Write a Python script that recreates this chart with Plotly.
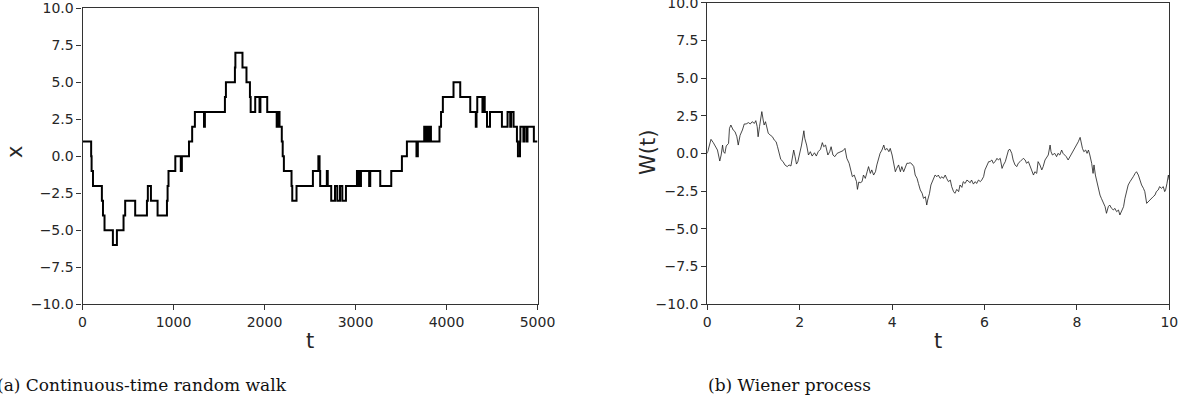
import plotly.graph_objects as go

# (a) continuous-time random walk: jump times and the level held after each jump
rw_t = [0, 95, 100, 115, 213, 225, 242, 334, 378, 451, 469, 579, 708, 718, 752, 825,
        928, 935, 945, 1020, 1080, 1092, 1170, 1205, 1235, 1335, 1345, 1565, 1576, 1675,
        1680, 1758, 1802, 1840, 1848, 1898, 1945, 1955, 2030, 2134, 2140, 2148, 2155,
        2165, 2190, 2200, 2213, 2297, 2305, 2352, 2532, 2592, 2605, 2612, 2685, 2695,
        2733, 2775, 2800, 2830, 2855, 2895, 3016, 3030, 3040, 3050, 3060, 3150, 3162,
        3272, 3393, 3510, 3565, 3670, 3685, 3755, 3770, 3785, 3800, 3810, 3829, 3923,
        3940, 3960, 4077, 4151, 4261, 4322, 4330, 4338, 4395, 4405, 4420, 4445, 4478,
        4609, 4671, 4700, 4710, 4737, 4774, 4785, 4808, 4812, 4845, 4855, 4880, 4890,
        4960, 5000]
rw_x = [1, 0, -1, -2, -3, -4, -5, -6, -5, -4, -3, -4, -3, -2, -3, -4,
        -3, -2, -1, 0, -1, 0, 1, 2, 3, 2, 3, 4, 5, 6,
        7, 6, 5, 4, 3, 4, 3, 4, 3, 2, 3, 2, 3,
        2, 1, 0, -1, -2, -3, -2, -1, 0, -1, -2, -1, -2,
        -3, -2, -3, -2, -3, -2, -1, -2, -1, -2, -1, -2, -1,
        -2, -1, 0, 1, 0, 1, 2, 1, 2, 1, 2, 1, 2,
        3, 4, 5, 4, 3, 2, 3, 4, 3, 4, 3, 2, 3,
        2, 3, 2, 3, 2, 1, 0, 1, 2, 1, 2, 1, 2,
        1, 1]

# (b) Wiener process sample path
w_t = [0.00, 0.04, 0.08, 0.13, 0.18, 0.22, 0.27, 0.30, 0.33, 0.35, 0.38, 0.41, 0.46, 0.48,
       0.51, 0.56, 0.60, 0.64, 0.67, 0.71, 0.76, 0.80, 0.84, 0.89, 0.93, 0.97, 1.02, 1.05,
       1.08, 1.10, 1.13, 1.18, 1.21, 1.23, 1.26, 1.29, 1.32, 1.36, 1.41, 1.45, 1.49, 1.52,
       1.55, 1.59, 1.64, 1.68, 1.73, 1.77, 1.81, 1.84, 1.87, 1.90, 1.93, 1.96, 2.00, 2.04,
       2.09, 2.11, 2.15, 2.19, 2.23, 2.27, 2.32, 2.36, 2.40, 2.45, 2.49, 2.52, 2.56, 2.61,
       2.65, 2.68, 2.72, 2.76, 2.81, 2.85, 2.89, 2.94, 2.98, 3.02, 3.07, 3.11, 3.14, 3.18,
       3.23, 3.25, 3.28, 3.31, 3.35, 3.38, 3.42, 3.46, 3.49, 3.53, 3.56, 3.60, 3.64, 3.67,
       3.71, 3.74, 3.78, 3.82, 3.85, 3.89, 3.93, 3.96, 4.00, 4.03, 4.07, 4.10, 4.14, 4.18,
       4.21, 4.25, 4.29, 4.32, 4.36, 4.39, 4.43, 4.47, 4.50, 4.54, 4.57, 4.61, 4.65, 4.68,
       4.72, 4.75, 4.77, 4.81, 4.84, 4.87, 4.90, 4.93, 4.97, 5.00, 5.04, 5.08, 5.11, 5.15,
       5.18, 5.22, 5.26, 5.29, 5.33, 5.36, 5.40, 5.44, 5.47, 5.51, 5.54, 5.58, 5.62, 5.65,
       5.69, 5.72, 5.76, 5.80, 5.83, 5.87, 5.91, 5.94, 5.98, 6.01, 6.05, 6.09, 6.12, 6.16,
       6.19, 6.23, 6.27, 6.30, 6.34, 6.38, 6.41, 6.45, 6.49, 6.52, 6.55, 6.59, 6.62, 6.66,
       6.70, 6.73, 6.77, 6.80, 6.84, 6.88, 6.91, 6.95, 6.98, 7.02, 7.06, 7.09, 7.13, 7.16,
       7.20, 7.24, 7.27, 7.31, 7.34, 7.38, 7.42, 7.44, 7.47, 7.52, 7.56, 7.59, 7.63, 7.67,
       7.70, 7.74, 7.77, 7.81, 7.85, 7.88, 7.92, 7.96, 7.99, 8.03, 8.07, 8.09, 8.12, 8.15,
       8.19, 8.22, 8.25, 8.28, 8.32, 8.35, 8.37, 8.40, 8.43, 8.46, 8.50, 8.53, 8.57, 8.61,
       8.64, 8.68, 8.71, 8.75, 8.79, 8.82, 8.86, 8.90, 8.93, 8.97, 9.01, 9.04, 9.08, 9.11,
       9.15, 9.18, 9.22, 9.26, 9.29, 9.33, 9.36, 9.40, 9.44, 9.47, 9.51, 9.54, 9.58, 9.62,
       9.65, 9.69, 9.72, 9.76, 9.79, 9.83, 9.87, 9.90, 9.92, 9.95, 9.98, 10.00]
w_v = [0.00, 0.45, 0.93, 0.71, 0.44, 0.22, -0.51, -0.11, 0.55, 0.11, 0.00, 0.49, 0.66, 1.66,
       1.88, 1.55, 1.44, 1.10, 0.55, 1.20, 1.55, 1.95, 1.95, 2.04, 1.95, 2.10, 1.99, 2.17,
       1.77, 1.10, 1.77, 2.77, 2.21, 1.88, 2.10, 1.77, 1.33, 1.22, 1.10, 0.88, 0.77, 0.44,
       0.00, -0.40, -0.55, -0.77, -0.88, -0.77, -0.84, -0.33, 0.22, -0.22, -0.71, -0.55, 0.00, 0.55,
       1.50, 1.00, 0.55, -0.11, 0.11, -0.18, 0.04, -0.18, 0.11, 0.27, 0.71, 0.44, 0.55, -0.11,
       0.11, 0.44, -0.11, -0.22, 0.00, 0.04, 0.11, 0.18, 0.33, -0.33, -0.66, -1.10, -1.55, -1.44,
       -1.88, -2.39, -1.90, -1.95, -1.88, -1.44, -1.66, -1.22, -0.88, -1.33, -1.10, -1.44, -1.22, -0.77,
       -0.33, 0.00, 0.22, 0.55, 0.22, 0.33, 0.11, 0.33, -0.11, -0.66, -1.22, -1.00, -0.77, -1.22,
       -0.88, -1.22, -0.88, -0.66, -0.66, -0.62, -0.71, -0.88, -1.44, -1.66, -2.00, -2.43, -2.65, -2.99,
       -2.88, -3.43, -3.10, -2.65, -2.10, -1.88, -1.66, -1.44, -1.55, -1.44, -1.66, -1.55, -1.66, -1.44,
       -1.66, -1.88, -1.77, -2.21, -2.54, -2.65, -2.39, -2.54, -2.10, -2.26, -1.88, -2.00, -1.77, -1.88,
       -1.95, -1.77, -2.04, -1.88, -2.00, -1.77, -1.88, -1.77, -1.55, -1.10, -0.77, -0.55, -0.55, -0.44,
       -0.66, -0.55, -0.33, -0.44, -0.33, -1.00, -0.77, -0.55, -0.11, 0.22, 0.27, 0.00, -0.44, -0.77,
       -0.88, -0.66, -0.55, -0.44, -0.33, -0.44, -0.66, -0.55, -0.77, -1.10, -1.44, -1.22, -1.33, -0.55,
       -0.77, -1.10, -0.88, -0.44, -0.33, -0.11, 0.55, 0.11, -0.11, 0.00, -0.22, 0.00, -0.11, 0.22,
       0.00, -0.11, -0.22, -0.44, -0.22, -0.11, 0.11, 0.33, 0.55, 0.77, 1.06, 0.66, 0.33, 0.11,
       0.22, 0.00, 0.22, -0.11, -0.66, -1.33, -0.77, -1.44, -1.88, -2.10, -2.77, -2.99, -3.32, -3.54,
       -3.98, -3.54, -3.43, -3.65, -3.76, -3.65, -3.87, -3.76, -4.09, -3.76, -3.54, -2.99, -2.54, -2.10,
       -1.88, -1.77, -1.55, -1.33, -1.22, -1.44, -1.77, -2.10, -2.32, -2.54, -3.32, -3.21, -3.10, -2.99,
       -2.88, -2.77, -2.54, -2.43, -2.21, -2.32, -2.21, -2.54, -2.43, -1.99, -1.44, -1.77]

y_ticks = [-10.0, -7.5, -5.0, -2.5, 0.0, 2.5, 5.0, 7.5, 10.0]
y_tick_text = ["\u221210.0", "\u22127.5", "\u22125.0", "\u22122.5", "0.0", "2.5", "5.0", "7.5", "10.0"]
rw_x_ticks = [0, 1000, 2000, 3000, 4000, 5000]
w_x_ticks = [0, 2, 4, 6, 8, 10]

W, H = 1189, 405
TICK_FONT = dict(family="DejaVu Sans", size=14, color="#262626")
LABEL_FONT = dict(family="DejaVu Sans", size=21, color="#262626")
CAPTION_FONT = dict(family="DejaVu Serif", size=17, color="#111111")

fig = go.Figure()
fig.add_trace(go.Scatter(x=rw_t, y=rw_x, mode="lines", line_shape="hv",
                         line=dict(color="black", width=2), xaxis="x", yaxis="y"))
fig.add_trace(go.Scatter(x=w_t, y=w_v, mode="lines",
                         line=dict(color="#1a1a1a", width=0.8), xaxis="x2", yaxis="y2"))


def px_x(a, b):
    return [a / W, b / W]


def px_y(top, bottom):
    return [(H - bottom) / H, (H - top) / H]


axis_common = dict(showline=True, linecolor="#333333", linewidth=1.1, mirror=True,
                   ticks="outside", ticklen=5, tickwidth=1.1, tickcolor="#333333",
                   showgrid=False, zeroline=False, tickfont=TICK_FONT, fixedrange=True,
                   automargin=False, ticklabeloverflow="allow")

fig.update_layout(
    width=W, height=H, margin=dict(l=0, r=0, t=0, b=0, autoexpand=False),
    paper_bgcolor="white", plot_bgcolor="white", showlegend=False,
    xaxis=dict(domain=px_x(82.5, 537.5), range=[0, 5000], tickvals=rw_x_ticks,
               anchor="y", **axis_common),
    yaxis=dict(domain=px_y(8.3, 304.3), range=[-10, 10], tickvals=y_ticks,
               ticktext=y_tick_text, anchor="x", **axis_common),
    xaxis2=dict(domain=px_x(707.3, 1169.3), range=[0, 10], tickvals=w_x_ticks,
                anchor="y2", **axis_common),
    yaxis2=dict(domain=px_y(2.7, 304.0), range=[-10, 10], tickvals=y_ticks,
                ticktext=y_tick_text, anchor="x2", **axis_common),
)

annotations = [
    dict(text="x", x=15 / W, y=1 - 152 / H, textangle=-90, font=LABEL_FONT),
    dict(text="t", x=310 / W, y=1 - 341 / H, font=LABEL_FONT),
    dict(text="W(t)", x=648 / W, y=1 - 153 / H, textangle=-90, font=LABEL_FONT),
    dict(text="t", x=938 / W, y=1 - 341 / H, font=LABEL_FONT),
    dict(text="(a) Continuous-time random walk", x=-5 / W, y=1 - 385 / H,
         xanchor="left", font=CAPTION_FONT),
    dict(text="(b) Wiener process", x=706 / W, y=1 - 385 / H,
         xanchor="left", font=CAPTION_FONT),
]
for a in annotations:
    a.setdefault("xanchor", "center")
    fig.add_annotation(xref="paper", yref="paper", yanchor="middle",
                       showarrow=False, **a)

fig.write_html("out.html")
